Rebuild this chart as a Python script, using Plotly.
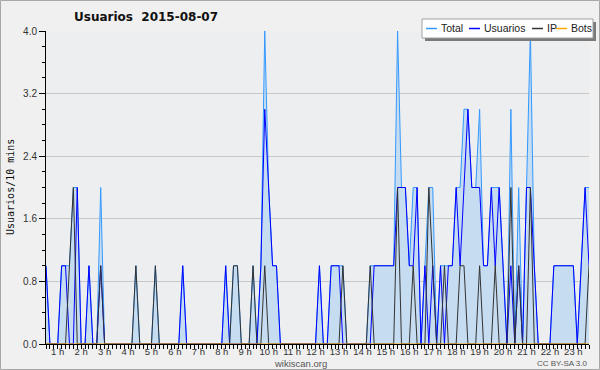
import plotly.graph_objects as go

# ---------------- data (10-minute slots starting 00:00) ----------------
series_names = ["Total", "Usuarios", "IP", "Bots"]
series_colors = ["#3399ff", "#0000ff", "#333333", "#ffa500"]

total = [
    1, 0, 0, 0, 1, 1, 1, 2, 2, 0, 0, 1,
    0, 0, 2, 0, 0, 0, 0, 0, 0, 0, 0, 1,
    0, 0, 0, 0, 1, 0, 0, 0, 0, 0, 0, 1,
    0, 0, 0, 0, 0, 0, 0, 0, 0, 0, 1, 0,
    1, 1, 0, 0, 0, 1, 0, 1, 4, 2, 1, 1,
    0, 0, 0, 0, 0, 0, 0, 0, 0, 0, 1, 0,
    0, 1, 1, 1, 1, 0, 0, 0, 0, 0, 0, 1,
    1, 1, 1, 1, 1, 1, 4, 2, 2, 1, 2, 2,
    0, 1, 2, 2, 0, 1, 1, 1, 1, 2, 2, 3,
    3, 2, 2, 3, 1, 1, 2, 2, 2, 1, 0, 3,
    0, 2, 0, 2, 4, 1, 0, 0, 0, 0, 1, 1,
    1, 1, 1, 1, 0, 1, 2, 2,
]
usuarios = [
    1, 0, 0, 0, 1, 1, 0, 0, 2, 0, 0, 1,
    0, 0, 1, 0, 0, 0, 0, 0, 0, 0, 0, 0,
    0, 0, 0, 0, 0, 0, 0, 0, 0, 0, 0, 1,
    0, 0, 0, 0, 0, 0, 0, 0, 0, 0, 1, 0,
    0, 0, 0, 0, 0, 0, 0, 1, 3, 2, 1, 1,
    0, 0, 0, 0, 0, 0, 0, 0, 0, 0, 1, 0,
    0, 1, 1, 1, 0, 0, 0, 0, 0, 0, 0, 0,
    1, 1, 1, 1, 1, 1, 2, 2, 2, 1, 1, 2,
    0, 1, 0, 1, 0, 1, 0, 1, 1, 2, 1, 2,
    3, 2, 2, 2, 1, 1, 2, 1, 2, 1, 0, 1,
    0, 1, 0, 2, 2, 1, 0, 0, 0, 0, 1, 1,
    1, 1, 1, 1, 0, 1, 2, 1,
]
ip = [
    0, 0, 0, 0, 0, 0, 1, 2, 0, 0, 0, 0,
    0, 0, 1, 0, 0, 0, 0, 0, 0, 0, 0, 1,
    0, 0, 0, 0, 1, 0, 0, 0, 0, 0, 0, 0,
    0, 0, 0, 0, 0, 0, 0, 0, 0, 0, 0, 0,
    1, 1, 0, 0, 0, 1, 0, 0, 1, 0, 0, 0,
    0, 0, 0, 0, 0, 0, 0, 0, 0, 0, 0, 0,
    0, 0, 0, 0, 1, 0, 0, 0, 0, 0, 0, 1,
    0, 0, 0, 0, 0, 0, 2, 0, 0, 0, 1, 0,
    0, 0, 2, 1, 0, 0, 1, 0, 0, 0, 1, 1,
    0, 0, 0, 1, 0, 0, 0, 1, 0, 0, 0, 2,
    0, 1, 0, 0, 2, 0, 0, 0, 0, 0, 0, 0,
    0, 0, 0, 0, 0, 0, 0, 1,
]
bots = [
    0, 0, 0, 0, 0, 0, 0, 0, 0, 0, 0, 0,
    0, 0, 0, 0, 0, 0, 0, 0, 0, 0, 0, 0,
    0, 0, 0, 0, 0, 0, 0, 0, 0, 0, 0, 0,
    0, 0, 0, 0, 0, 0, 0, 0, 0, 0, 0, 0,
    0, 0, 0, 0, 0, 0, 0, 0, 0, 0, 0, 0,
    0, 0, 0, 0, 0, 0, 0, 0, 0, 0, 0, 0,
    0, 0, 0, 0, 0, 0, 0, 0, 0, 0, 0, 0,
    0, 0, 0, 0, 0, 0, 0, 0, 0, 0, 0, 0,
    0, 0, 0, 0, 0, 0, 0, 0, 0, 0, 0, 0,
    0, 0, 0, 0, 0, 0, 0, 0, 0, 0, 0, 0,
    0, 0, 0, 0, 0, 0, 0, 0, 0, 0, 0, 0,
    0, 0, 0, 0, 0, 0, 0, 0,
]
hour_labels = [f"{h} h" for h in range(1, 24)]
y_ticks = [0.0, 0.8, 1.6, 2.4, 3.2, 4.0]

title_text = "Usuarios  2015-08-07"
y_title = "Usuarios/10 mins"
footer_site = "wikiscan.org"
footer_license = "CC BY-SA 3.0"

# ---------------- figure ----------------
W, H = 600, 370
L, R, T, B = 46, 11, 31, 26
PW, PH = W - L - R, H - T - B


def px_x(p):
    return (p - L) / PW


def px_y(p):
    return (H - B - p) / PH


hours = [i / 6 for i in range(len(total))]
series = [total, usuarios, ip, bots]

fig = go.Figure()
for name, color, vals in zip(series_names, series_colors, series):
    kw = {}
    if name == "Total":
        kw = dict(fill="tozeroy", fillcolor="#c6dcf0")
    fig.add_trace(go.Scatter(x=hours, y=vals, mode="lines", name=name,
                             line=dict(color=color, width=1), showlegend=False,
                             hoverinfo="skip", **kw))

tick_font = dict(family="Liberation Sans, Arial, sans-serif", size=10, color="#333333")

fig.update_layout(
    width=W, height=H,
    margin=dict(l=L, r=R, t=T, b=B, pad=0),
    paper_bgcolor="#f0f0f0",
    plot_bgcolor="#eceef0",
    showlegend=False,
    xaxis=dict(
        range=[0, (len(total) - 1) / 6],
        tickmode="array",
        tickvals=[h - 0.5 for h in range(1, 24)],
        ticktext=hour_labels,
        tickangle=0, automargin=False,
        ticks="outside", ticklen=4, tickcolor="black", tickwidth=1,
        ticklabelstandoff=-5,
        showline=True, linecolor="black", linewidth=1,
        showgrid=False, zeroline=False,
        tickfont=dict(tick_font, size=9.5),
        layer="above traces",
        minor=dict(tickmode="linear", tick0=0, dtick=1 / 6, ticks="outside",
                   ticklen=4, tickcolor="black", tickwidth=1, showgrid=False),
    ),
    yaxis=dict(
        range=[0, 4],
        tickmode="array",
        tickvals=y_ticks,
        ticktext=[f"{v:.1f}" for v in y_ticks],
        automargin=False,
        ticks="outside", ticklen=6, tickcolor="black", tickwidth=1,
        showline=True, linecolor="black", linewidth=1,
        showgrid=True, gridcolor="#c8c8c8", gridwidth=1,
        zeroline=False,
        tickfont=tick_font,
        layer="above traces",
        minor=dict(tickmode="linear", tick0=0, dtick=0.2, ticks="outside",
                   ticklen=3, tickcolor="black", tickwidth=1, showgrid=False),
    ),
)

annotations = [
    dict(text="<b>" + title_text + "</b>", x=px_x(72), y=px_y(17), xanchor="left",
         yanchor="middle", font=dict(family="DejaVu Sans", size=12, color="#111111"),
         showarrow=False, xref="paper", yref="paper"),
    dict(text=y_title, x=px_x(10), y=px_y(187), xanchor="center", yanchor="middle",
         textangle=-90, font=dict(family="DejaVu Sans Mono", size=10, color="#111111"),
         showarrow=False, xref="paper", yref="paper"),
    dict(text=footer_site, x=px_x(300), y=px_y(363), xanchor="center", yanchor="middle",
         font=dict(family="Liberation Sans, Arial", size=9.5, color="#555555"),
         showarrow=False, xref="paper", yref="paper"),
    dict(text=footer_license, x=px_x(590), y=px_y(363), xanchor="right", yanchor="middle",
         font=dict(family="Liberation Sans, Arial", size=8, color="#555555"),
         showarrow=False, xref="paper", yref="paper"),
]

shapes = [
    # outer frame
    dict(type="rect", xref="paper", yref="paper", x0=px_x(0.5), x1=px_x(599.5),
         y0=px_y(369.5), y1=px_y(0.5), line=dict(color="#a8a8a8", width=1),
         fillcolor="rgba(0,0,0,0)", layer="above"),
    # legend shadow and box
    dict(type="rect", xref="paper", yref="paper", x0=px_x(425), x1=px_x(596),
         y0=px_y(41), y1=px_y(22), line=dict(width=0), fillcolor="#7a7a7a", layer="above"),
    dict(type="rect", xref="paper", yref="paper", x0=px_x(422), x1=px_x(593),
         y0=px_y(38), y1=px_y(19), line=dict(color="#a0a0a0", width=1),
         fillcolor="#ffffff", layer="above"),
]

# manual legend entries
legend_x = [426, 469, 532, 556]
for name, color, lx in zip(series_names, series_colors, legend_x):
    shapes.append(dict(type="line", xref="paper", yref="paper", x0=px_x(lx),
                       x1=px_x(lx + 11), y0=px_y(28.5), y1=px_y(28.5),
                       line=dict(color=color, width=1.5), layer="above"))
    annotations.append(dict(text=name, x=px_x(lx + 13), y=px_y(28.5), xanchor="left",
                            yanchor="middle", showarrow=False, xref="paper", yref="paper",
                            font=dict(family="Liberation Sans, Arial", size=10.5,
                                      color="#222222")))

fig.update_layout(annotations=annotations, shapes=shapes)
fig.write_html("out.html")
